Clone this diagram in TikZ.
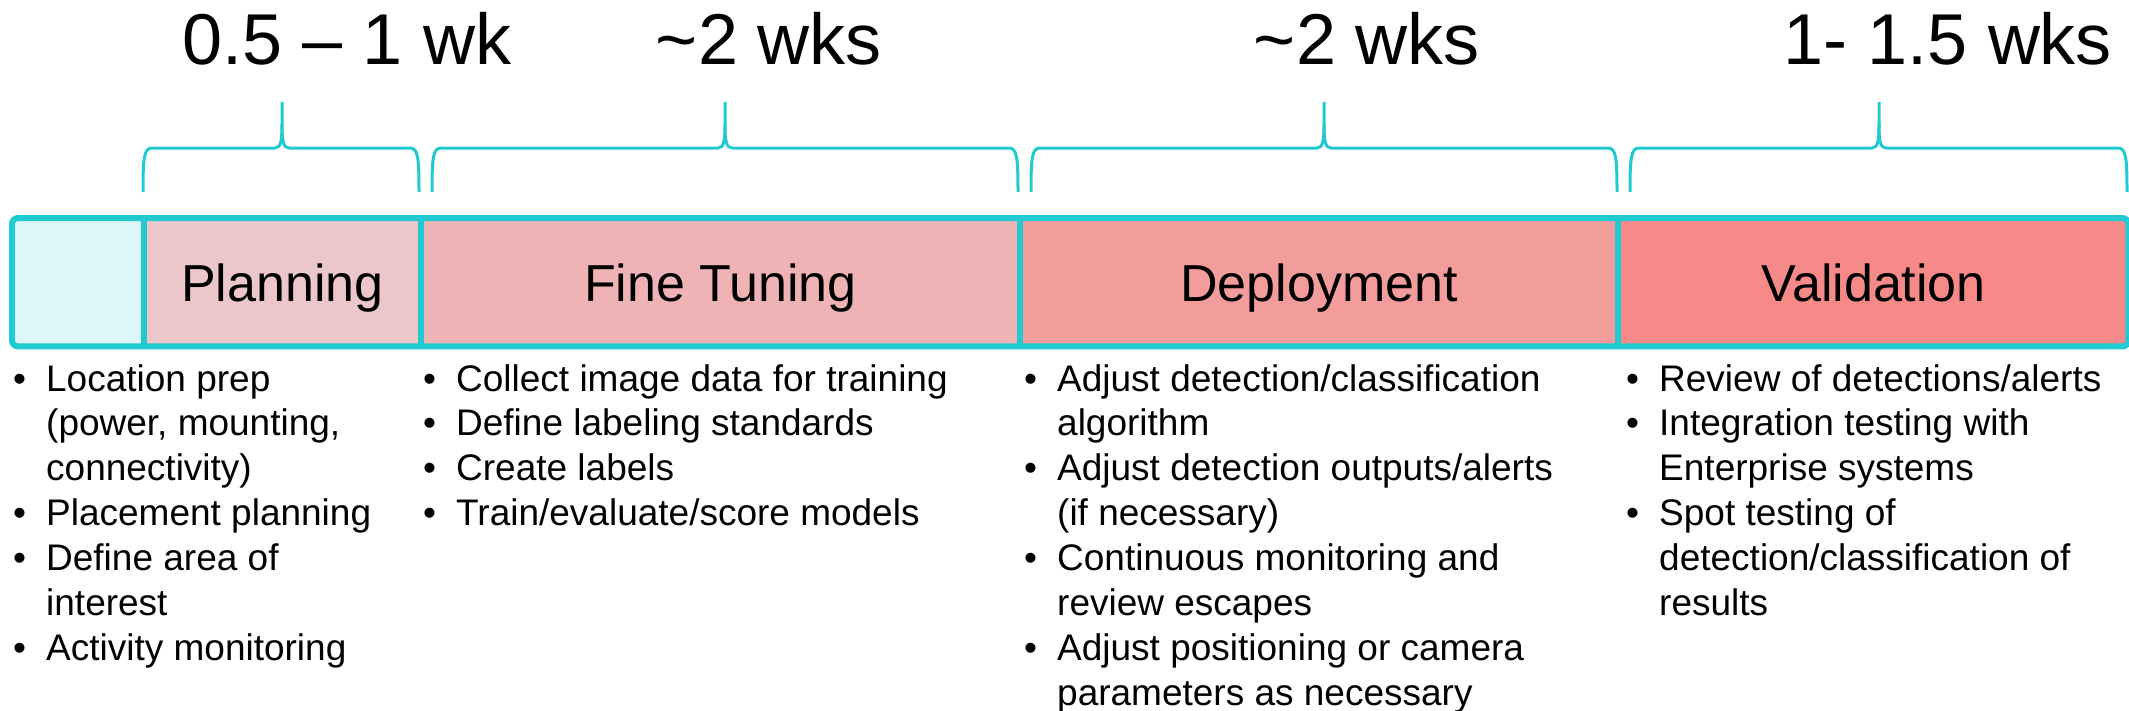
\documentclass[tikz,border=0pt]{standalone}
\usepackage{fontspec}
\setmainfont{Liberation Sans}
\definecolor{cyanb}{HTML}{21C9D1}
\definecolor{emptyc}{HTML}{DDF6F7}
\definecolor{planc}{HTML}{EBC7C9}
\definecolor{finec}{HTML}{EFB3B6}
\definecolor{depc}{HTML}{F29C9B}
\definecolor{valc}{HTML}{F68A88}
\newcommand{\bul}{\par\hangindent=33pt\hangafter=1\noindent\makebox[33pt][l]{•}}
\newcommand{\nl}{\hfil\break}
\newcommand{\colbox}[1]{\parbox[t]{600pt}{\fontsize{37}{44.9}\selectfont\raggedright\parindent=0pt\parskip=0pt #1}}
\newcommand{\brc}[3]{%
  \draw[brace] (#1,192) .. controls (#1,158) and ({#1+1},148) .. ({#1+9},148) -- ({#2-7},148)
     .. controls ({#2-1},148) and (#2,140) .. (#2,124) -- (#2,102);
  \draw[brace] (#2,124) .. controls (#2,140) and ({#2+1},148) .. ({#2+7},148) -- ({#3-9},148)
     .. controls ({#3-1},148) and (#3,158) .. (#3,192);}
\begin{document}
\begin{tikzpicture}[x=1pt,y=-1pt,
  cell/.style={draw=none, inner sep=0, minimum height=128pt, anchor=north west, rectangle},
  lab/.style={anchor=base, inner sep=0, font=\fontsize{52}{60}\selectfont},
  hdr/.style={anchor=base, inner sep=0, font=\fontsize{72}{80}\selectfont},
  bar/.style={line width=6pt, draw=cyanb},
  brace/.style={line width=3pt, draw=cyanb},
  blist/.style={anchor=base west, inner sep=0}]
\useasboundingbox (0,0) rectangle (2129,710);
% cells
\node[cell, fill=emptyc, minimum width=132pt] (c0) at (12,218) {};
\node[cell, fill=planc, minimum width=277pt] (c1) at (144,218) {};
\node[cell, fill=finec, minimum width=599pt] (c2) at (421,218) {};
\node[cell, fill=depc, minimum width=598pt] (c3) at (1020,218) {};
\node[cell, fill=valc, minimum width=510pt] (c4) at (1618,218) {};
\draw[bar, rounded corners=6pt] (c0.north west) -- (c4.north east) -- (c4.south east) -- (c0.south west) -- cycle;
\draw[bar] (c1.north west) -- (c1.south west);
\draw[bar] (c2.north west) -- (c2.south west);
\draw[bar] (c3.north west) -- (c3.south west);
\draw[bar] (c4.north west) -- (c4.south west);
% phase labels
\node[lab] (t1) at (282.5,301) {Planning};
\node[lab] (t2) at (720.5,301) {Fine Tuning};
\node[lab] (t3) at (1319,301) {Deployment};
\node[lab] (t4) at (1873.5,301) {Validation};
% braces
\brc{143}{282}{419}
\brc{432}{725}{1018}
\brc{1031}{1324}{1617}
\brc{1630}{1879}{2127}
% headers
\node[hdr] (h1) at (347,64) {0.5 – 1 wk};
\node[hdr] (h2) at (769,64) {\textasciitilde 2 wks};
\node[hdr] (h3) at (1367,64) {\textasciitilde 2 wks};
\node[hdr] (h4) at (1948,64) {1- 1.5 wks};
% bullet lists
\node[blist] (b1) at (13,391) {\colbox{\bul Location prep\nl (power, mounting,\nl connectivity)
  \bul Placement planning
  \bul Define area of\nl interest
  \bul Activity monitoring}};
\node[blist] (b2) at (423,391) {\colbox{\bul Collect image data for training
  \bul Define labeling standards
  \bul Create labels
  \bul Train/evaluate/score models}};
\node[blist] (b3) at (1024,391) {\colbox{\bul Adjust detection/classification\nl algorithm
  \bul Adjust detection outputs/alerts\nl (if necessary)
  \bul Continuous monitoring and\nl review escapes
  \bul Adjust positioning or camera\nl parameters as necessary}};
\node[blist] (b4) at (1626,391) {\colbox{\bul Review of detections/alerts
  \bul Integration testing with\nl Enterprise systems
  \bul Spot testing of\nl detection/classification of\nl results}};
\end{tikzpicture}
\end{document}
